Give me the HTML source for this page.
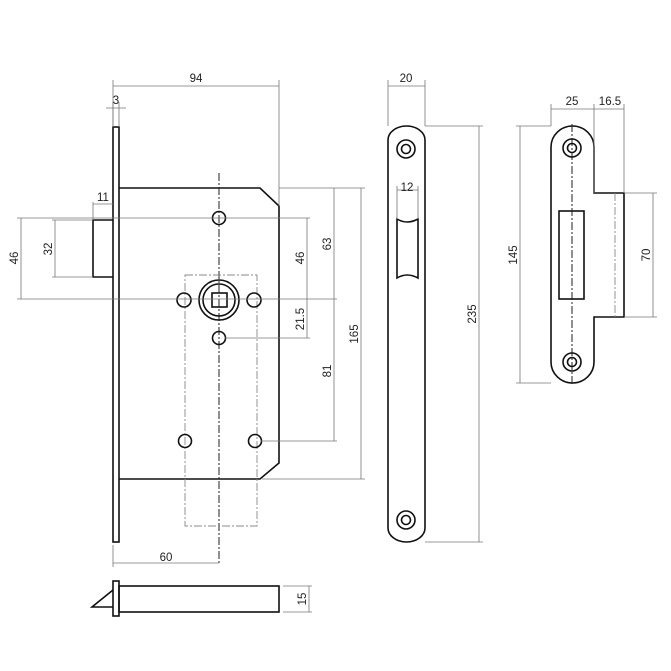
<!DOCTYPE html>
<html><head><meta charset="utf-8"><style>
html,body{margin:0;padding:0;background:#fff}
svg{display:block}
text{font-family:"Liberation Sans",sans-serif;font-size:11.5px;fill:#222}
.k{stroke:#111;stroke-width:1.6;fill:none}
.d{stroke:#777;stroke-width:0.8;fill:none}
.c{stroke:#222;stroke-width:1;fill:none;stroke-dasharray:8 2 2 2}
.g{stroke:#888;stroke-width:0.9;fill:none;stroke-dasharray:8 2 2 2}
</style></head><body>
<svg width="671" height="671" viewBox="0 0 671 671" xmlns="http://www.w3.org/2000/svg">
<!-- lock body -->
<rect class="k" x="113" y="127" width="6" height="415"/>
<path class="k" d="M119 188 H260 L279 206 V463 L260 479 H119"/>
<path class="k" d="M113 220 H93 V277 H113"/>
<line class="c" x1="219" y1="173" x2="219" y2="565"/>
<rect class="g" x="185" y="275" width="72" height="251"/>
<circle class="k" cx="219" cy="218" r="6.5"/>
<circle class="k" cx="219" cy="300" r="20"/>
<circle class="k" cx="219" cy="300" r="16"/>
<rect class="k" x="212" y="293" width="15" height="14"/>
<circle class="k" cx="184" cy="300" r="7"/>
<circle class="k" cx="254" cy="300" r="7"/>
<circle class="k" cx="219" cy="338" r="6.5"/>
<circle class="k" cx="185" cy="441" r="6.5"/>
<circle class="k" cx="255" cy="441" r="6.5"/>
<!-- dims left part -->
<path class="d" d="M113 80 V127 M279 80 V206 M113 86 H279"/>
<text x="196" y="82" text-anchor="middle">94</text>
<path class="d" d="M113 102 V127 M119 102 V127 M106 108 H126"/>
<text x="116" y="104" text-anchor="middle">3</text>
<path class="d" d="M93 202 V220 M93 204 H113"/>
<text x="103" y="201" text-anchor="middle">11</text>
<path class="d" d="M17 218 H310 M17 299 H337 M21 218 V299 M52 220 H93 M52 277 H93 M55 220 V277"/>
<text transform="translate(18,258) rotate(-90)" text-anchor="middle">46</text>
<text transform="translate(52,249) rotate(-90)" text-anchor="middle">32</text>
<path class="d" d="M279 188 H365 M225 338 H310 M261 441 H337 M262 479 H365"/>
<path class="d" d="M307 218 V338 M334 188 V441 M361 188 V479"/>
<text transform="translate(304,258) rotate(-90)" text-anchor="middle">46</text>
<text transform="translate(304,319) rotate(-90)" text-anchor="middle">21.5</text>
<text transform="translate(331,244) rotate(-90)" text-anchor="middle">63</text>
<text transform="translate(331,371) rotate(-90)" text-anchor="middle">81</text>
<text transform="translate(358,334) rotate(-90)" text-anchor="middle">165</text>
<path class="d" d="M113 545 V567 M113 563 H219"/>
<text x="166" y="561" text-anchor="middle">60</text>
<!-- bottom bolt -->
<rect class="k" x="113" y="581" width="6" height="35"/>
<rect class="k" x="119" y="586" width="160" height="26"/>
<path class="k" d="M113 590 L92 607 H113"/>
<path class="d" d="M283 586 H312 M283 612 H312 M309 586 V612"/>
<text transform="translate(306,599) rotate(-90)" text-anchor="middle">15</text>
<!-- faceplate -->
<path class="k" d="M388 140 A18.5 14 0 0 1 425 140 V528 A18.5 14 0 0 1 388 528 Z"/>
<circle class="k" cx="406" cy="149" r="9"/><circle class="k" cx="406" cy="149" r="4.5"/>
<circle class="k" cx="406" cy="520" r="9"/><circle class="k" cx="406" cy="520" r="4.5"/>
<path class="k" d="M397 219 Q407 225 418 219 V278 Q407 272 397 278 Z"/>
<path class="d" d="M388 80 V126 M425 80 V126 M388 86 H425"/>
<text x="406" y="82" text-anchor="middle">20</text>
<path class="d" d="M397 186 V219 M418 186 V219 M397 190 H418"/>
<text x="407" y="191" text-anchor="middle">12</text>
<path class="d" d="M425 126 H483 M425 542 H483 M479 126 V542"/>
<text transform="translate(476,314) rotate(-90)" text-anchor="middle">235</text>
<!-- strike -->
<path class="k" d="M551 147 A21.5 21 0 0 1 594 147 V193 H624 V317 H594 V362 A21.5 21 0 0 1 551 362 Z"/>
<rect class="k" x="559" y="211" width="25" height="88"/>
<line class="c" x1="572" y1="124" x2="572" y2="386"/>
<line class="g" x1="615" y1="193" x2="615" y2="317"/>
<circle class="k" cx="572" cy="148" r="9"/><circle class="k" cx="572" cy="148" r="4.5"/>
<circle class="k" cx="572" cy="362" r="9"/><circle class="k" cx="572" cy="362" r="4.5"/>
<path class="d" d="M551 104 V126 M594 104 V193 M624 104 V193 M551 109 H624"/>
<text x="572" y="105" text-anchor="middle">25</text>
<text x="610" y="105" text-anchor="middle">16.5</text>
<path class="d" d="M516 126 H551 M516 383 H551 M520 126 V383"/>
<text transform="translate(517,255) rotate(-90)" text-anchor="middle">145</text>
<path class="d" d="M624 193 H657 M624 317 H657 M653 193 V317"/>
<text transform="translate(650,255) rotate(-90)" text-anchor="middle">70</text>
</svg>
</body></html>
